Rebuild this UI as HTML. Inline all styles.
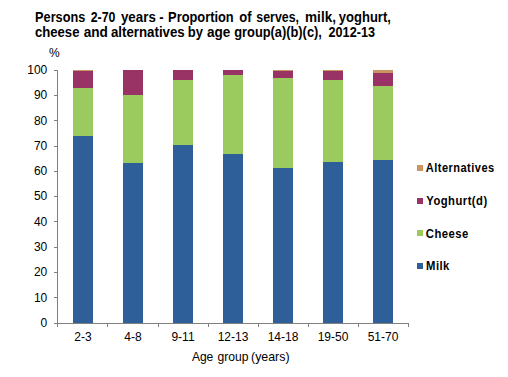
<!DOCTYPE html>
<html><head><meta charset="utf-8">
<style>
html,body{margin:0;padding:0;background:#fff;}
body{width:508px;height:377px;overflow:hidden;position:relative;}
svg{position:absolute;left:0;top:0;}
text{font-family:"Liberation Sans",sans-serif;}
</style></head><body>
<svg width="508" height="377" viewBox="0 0 508 377">
<rect width="508" height="377" fill="#fff"/>
<g font-weight="bold" font-size="13" fill="#000">
<text transform="matrix(0.9791 0 0 1.1 35.09 -2.20)" x="0" y="22">Persons</text><text transform="matrix(0.9500 0 0 1.1 90.65 -2.20)" x="0" y="22">2-70</text><text transform="matrix(1.0274 0 0 1.1 120.93 -2.20)" x="0" y="22">years</text><text transform="matrix(1.0000 0 0 1.1 159.19 -2.20)" x="0" y="22">-</text><text transform="matrix(0.9881 0 0 1.1 168.08 -2.20)" x="0" y="22">Proportion</text><text transform="matrix(1.0000 0 0 1.1 239.29 -2.20)" x="0" y="22">of</text><text transform="matrix(0.9531 0 0 1.1 256.31 -2.20)" x="0" y="22">serves,</text><text transform="matrix(1.0446 0 0 1.1 305.04 -2.20)" x="0" y="22">milk,</text><text transform="matrix(1.0019 0 0 1.1 338.84 -2.20)" x="0" y="22">yoghurt,</text>
<text transform="matrix(1.0103 0 0 1.1 34.92 -3.70)" x="0" y="37">cheese</text><text transform="matrix(1.0500 0 0 1.1 83.68 -3.70)" x="0" y="37">and</text><text transform="matrix(1.0229 0 0 1.1 110.89 -3.70)" x="0" y="37">alternatives</text><text transform="matrix(1.0000 0 0 1.1 187.70 -3.70)" x="0" y="37">by</text><text transform="matrix(1.0438 0 0 1.1 206.98 -3.70)" x="0" y="37">age</text><text transform="matrix(0.9879 0 0 1.1 234.21 -3.70)" x="0" y="37">group(a)(b)(c),</text><text transform="matrix(0.9736 0 0 1.1 328.52 -3.70)" x="0" y="37">2012-13</text>
</g>
<text x="49" y="56.5" font-size="12" fill="#000">%</text>
<g font-size="12" fill="#000" text-anchor="end"><text x="47.3" y="73.9">100</text><text x="47.3" y="99.2">90</text><text x="47.3" y="124.5">80</text><text x="47.3" y="149.8">70</text><text x="47.3" y="175.1">60</text><text x="47.3" y="200.4">50</text><text x="47.3" y="225.7">40</text><text x="47.3" y="251.0">30</text><text x="47.3" y="276.3">20</text><text x="47.3" y="301.6">10</text><text x="47.3" y="326.9">0</text></g>
<g stroke="#808080" stroke-width="1" fill="none" shape-rendering="crispEdges">
<path d="M57.5 70V323.5M54 70.5H57.5M54 95.5H57.5M54 120.5H57.5M54 146.5H57.5M54 171.5H57.5M54 196.5H57.5M54 221.5H57.5M54 247.5H57.5M54 272.5H57.5M54 297.5H57.5M54 323.5H57.5"/>
<path d="M57 323.5H409M57.5 323.5V327M107.5 323.5V327M158.5 323.5V327M208.5 323.5V327M258.5 323.5V327M308.5 323.5V327M358.5 323.5V327M408.5 323.5V327"/>
</g>
<g shape-rendering="crispEdges"><rect x="73" y="70" width="20" height="1" fill="#c99660"/><rect x="73" y="71" width="20" height="17" fill="#993366"/><rect x="73" y="88" width="20" height="48" fill="#9bcb5f"/><rect x="73" y="136" width="20" height="187" fill="#2f5f98"/><rect x="123" y="70" width="20" height="25" fill="#993366"/><rect x="123" y="95" width="20" height="68" fill="#9bcb5f"/><rect x="123" y="163" width="20" height="160" fill="#2f5f98"/><rect x="173" y="70" width="20" height="10" fill="#993366"/><rect x="173" y="80" width="20" height="65" fill="#9bcb5f"/><rect x="173" y="145" width="20" height="178" fill="#2f5f98"/><rect x="223" y="70" width="20" height="5" fill="#993366"/><rect x="223" y="75" width="20" height="79" fill="#9bcb5f"/><rect x="223" y="154" width="20" height="169" fill="#2f5f98"/><rect x="273" y="70" width="20" height="1" fill="#c99660"/><rect x="273" y="71" width="20" height="7" fill="#993366"/><rect x="273" y="78" width="20" height="90" fill="#9bcb5f"/><rect x="273" y="168" width="20" height="155" fill="#2f5f98"/><rect x="323" y="70" width="20" height="1" fill="#c99660"/><rect x="323" y="71" width="20" height="9" fill="#993366"/><rect x="323" y="80" width="20" height="82" fill="#9bcb5f"/><rect x="323" y="162" width="20" height="161" fill="#2f5f98"/><rect x="373" y="70" width="20" height="3" fill="#c99660"/><rect x="373" y="73" width="20" height="13" fill="#993366"/><rect x="373" y="86" width="20" height="74" fill="#9bcb5f"/><rect x="373" y="160" width="20" height="163" fill="#2f5f98"/></g>
<g font-size="12" fill="#000" text-anchor="middle"><text x="83" y="341">2-3</text><text x="133" y="341">4-8</text><text x="183" y="341">9-11</text><text x="233" y="341">12-13</text><text x="283" y="341">14-18</text><text x="333" y="341">19-50</text><text x="383" y="341">51-70</text></g>
<g font-size="12" fill="#000">
<text transform="matrix(1.0058 0 0 1 191.88 0)" x="0" y="360.8">Age</text><text transform="matrix(1.0102 0 0 1 217.42 0)" x="0" y="360.8">group</text><text transform="matrix(1.0321 0 0 1 251.01 0)" x="0" y="360.8">(years)</text>
</g>
<g font-size="12" font-weight="bold" fill="#000">
<rect x="417" y="165" width="6" height="6" fill="#c99660"/>
<text transform="matrix(0.9212 0 0 1.06 425.84 -10.35)" x="0" y="172.5" letter-spacing="0.5">Alternatives</text>
<rect x="417" y="198" width="6" height="6" fill="#993366"/>
<text transform="matrix(0.9366 0 0 1.06 426.33 -12.32)" x="0" y="205.3" letter-spacing="0.5">Yoghurt(d)</text>
<rect x="417" y="230" width="6" height="6" fill="#9bcb5f"/>
<text transform="matrix(0.9434 0 0 1.06 425.79 -14.26)" x="0" y="237.7" letter-spacing="0.5">Cheese</text>
<rect x="417" y="263" width="6" height="6" fill="#2f5f98"/>
<text transform="matrix(0.9388 0 0 1.06 426.08 -16.23)" x="0" y="270.5" letter-spacing="0.5">Milk</text>
</g>
</svg>
</body></html>
